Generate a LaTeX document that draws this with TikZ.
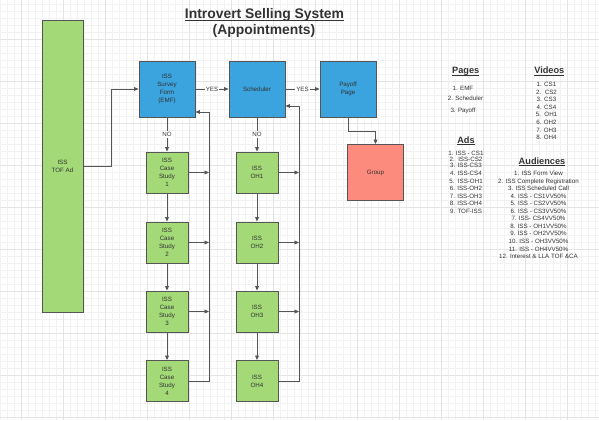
\documentclass[tikz,border=0pt]{standalone}
\usepackage{fontspec}
\setmainfont{Liberation Sans}
\usetikzlibrary{arrows.meta}
\definecolor{boxblue}{HTML}{3BA3DD}
\definecolor{boxgreen}{HTML}{A3D977}
\definecolor{boxred}{HTML}{FC8B7D}
\definecolor{edgec}{HTML}{555555}
\definecolor{txt}{HTML}{333333}
\definecolor{gridminor}{HTML}{F2F2F2}
\definecolor{gridmajor}{HTML}{E4E4E4}
\newcommand{\ulbox}[3]{\setbox0=\hbox{#3}\rlap{\rule[-#1]{\wd0}{#2}}\box0}
\begin{document}
\begin{tikzpicture}[x=1pt,y=-1pt,
 box/.style={draw=edgec, line width=0.9pt, align=center, text=txt, font=\fontsize{6.2}{7.9}\selectfont, inner sep=0pt},
 bluebox/.style={box, fill=boxblue, minimum width=56pt, minimum height=56pt},
 greenbox/.style={box, fill=boxgreen, minimum width=42pt, minimum height=41pt},
 redbox/.style={box, fill=boxred, minimum width=56pt, minimum height=56pt},
 conn/.style={draw=edgec, line width=0.8pt},
 arr/.style={conn, -{Triangle[length=4.5pt,width=3.8pt]}},
 lbl/.style={fill=white, text=txt, font=\fontsize{6.2}{7}\selectfont, inner sep=1pt},
 head/.style={anchor=base, text=txt, font=\fontsize{9.2}{11}\selectfont\bfseries, inner sep=0pt},
 item/.style={text=txt, font=\fontsize{6.2}{7}\selectfont, inner sep=0pt, text height=4.4pt, text depth=0pt},
 minorg/.style={draw=gridminor, line width=0.6pt},
 majorg/.style={draw=gridmajor, line width=0.7pt},
]
\useasboundingbox (0,0) rectangle (599,420);
\fill[white] (0,0) rectangle (599,420);
% grid
\foreach \gx in {0,7,...,599} \draw[minorg] (\gx,0) -- (\gx,420);
\foreach \gy in {4,11,...,420} \draw[minorg] (0,\gy) -- (599,\gy);
\foreach \gx in {21,63,...,599} \draw[majorg] (\gx,0) -- (\gx,420);
\foreach \gy in {39,81,...,420} \draw[majorg] (0,\gy) -- (599,\gy);

% title
\node[anchor=base, font=\fontsize{13.9}{16}\selectfont\bfseries, text=txt, inner sep=0pt] (title1) at (264.5,19) {\ulbox{2.3pt}{1.3pt}{Introvert Selling System}};
\node[anchor=base, font=\fontsize{13.9}{16}\selectfont\bfseries, text=txt, inner sep=0pt] (title2) at (264,35) {(Appointments)};

% boxes
\node[box, fill=boxgreen, minimum width=41pt, minimum height=292pt] (tof) at (62.5,166) {ISS\\TOF Ad};
\node[bluebox] (emf) at (167,89) {ISS\\Survey\\Form\\(EMF)};
\node[bluebox] (sched) at (257,89) {Scheduler};
\node[bluebox] (payoff) at (348,89) {Payoff\\Page};
\node[redbox] (group) at (375.5,172.5) {Group};
\node[greenbox] (cs1) at (167,172.5) {ISS\\Case\\Study\\1};
\node[greenbox] (cs2) at (167,242.5) {ISS\\Case\\Study\\2};
\node[greenbox] (cs3) at (167,311.5) {ISS\\Case\\Study\\3};
\node[greenbox] (cs4) at (167,381) {ISS\\Case\\Study\\4};
\node[greenbox] (oh1) at (257,172.5) {ISS\\OH1};
\node[greenbox] (oh2) at (257,242.5) {ISS\\OH2};
\node[greenbox] (oh3) at (257,311.5) {ISS\\OH3};
\node[greenbox] (oh4) at (257,381) {ISS\\OH4};

% connectors
\coordinate (tj) at (111,166);
\draw[arr] (tof.east) -- (tj) |- (emf.west);
\draw[arr] (emf.east) -- node[lbl] (yes1) {YES} (sched.west);
\draw[arr] (sched.east) -- node[lbl] (yes2) {YES} (payoff.west);
\draw[arr] (emf.south) -- node[lbl] (no1) {NO} (cs1.north);
\draw[arr] (sched.south) -- node[lbl] (no2) {NO} (oh1.north);
\draw[arr] (cs1) -- (cs2);
\draw[arr] (cs2) -- (cs3);
\draw[arr] (cs3) -- (cs4);
\draw[arr] (oh1) -- (oh2);
\draw[arr] (oh2) -- (oh3);
\draw[arr] (oh3) -- (oh4);
\draw[arr] (payoff.south) -- ++(0,14) -| (group.north);
\coordinate (rcs) at (209,112);
\coordinate (roh) at (299,106);
\draw[arr] (cs4.east) -| (rcs) -- (rcs -| emf.east);
\draw[arr] (oh4.east) -| (roh) -- (roh -| sched.east);
\foreach \b in {cs1,cs2,cs3} \draw[arr] (\b.east) -- (\b.east -| rcs);
\foreach \b in {oh1,oh2,oh3} \draw[arr] (\b.east) -- (\b.east -| roh);

% legend headers
\node[head] (hpages) at (465.7,74) {\ulbox{1.7pt}{0.9pt}{Pages}};
\node[head] (hvideos) at (549.3,74) {\ulbox{1.7pt}{0.9pt}{Videos}};
\node[head] (hads) at (466,143.5) {\ulbox{1.7pt}{0.9pt}{Ads}};
\node[head] (haud) at (542,164.5) {\ulbox{1.7pt}{0.9pt}{Audiences}};

% pages
\node[item] (p1) at (463,88.7) {1. EMF};
\node[item] (p2) at (465.5,98.7) {2. Scheduler};
\node[item] (p3) at (463,110) {3. Payoff};

% videos
\foreach \t [count=\i] in {1. CS1,2.\ \ CS2,3. CS3,4. CS4,5.\ \ OH1,6. OH2,7. OH3,8. OH4}
  \node[item] (v\i) at (546.5,{84.3+7.6*(\i-1)}) {\t};

% ads
\foreach \t/\yy [count=\i] in {1. ISS - CS1/153.3,2.\ \ ISS-CS2/159,3. ISS-CS3/165.3,4. ISS-CS4/173.3,5.\ \ ISS-OH1/181,6. ISS-OH2/188.7,7. ISS-OH3/196.3,8. ISS-OH4/203.7,9. TOF-ISS/211}
  \node[item] (a\i) at (466,\yy) {\t};

% audiences
\foreach \t [count=\i] in {1. ISS Form View,2. ISS Complete Registration,3. ISS Scheduled Call,4. ISS - CS1VV50\%,5. ISS - CS2VV50\%,6. ISS - CS3VV50\%,7. ISS- CS4VV50\%,8. ISS - OH1VV50\%,9. ISS - OH2VV50\%,10. ISS - OH3VV50\%,11. ISS - OH4VV50\%,12. Interest \& LLA TOF \&CA}
  \node[item] (u\i) at (538.5,{173.3+7.55*(\i-1)}) {\t};
\end{tikzpicture}
\end{document}
